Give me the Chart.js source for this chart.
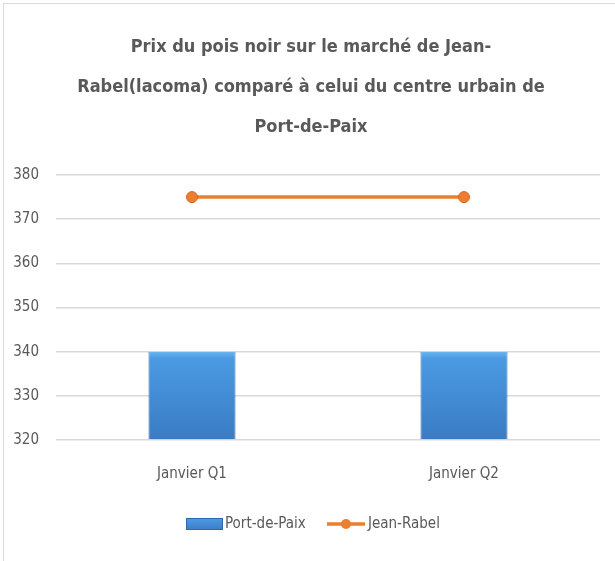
<!DOCTYPE html>
<html><head><meta charset="utf-8">
<script src="https://cdn.jsdelivr.net/npm/chart.js@4/dist/chart.umd.min.js"></script>
<style>
html,body{margin:0;padding:0;background:#fff;}
#wrap{position:absolute;left:0;top:0;width:615px;height:561px;}
#frame{position:absolute;left:3px;top:3px;width:640px;height:600px;border-left:1px solid #d9d9d9;border-top:1px solid #d9d9d9;}
</style></head>
<body>
<div id="wrap"><div id="frame"></div><canvas id="c" width="615" height="561"></canvas></div>
<script>
const categories = ["Janvier Q1", "Janvier Q2"];
const portDePaix = [340, 340];
const jeanRabel = [375, 375];
const yTicks = [320, 330, 340, 350, 360, 370, 380];
const titleLines = ["Prix du pois noir sur le marché de Jean-", "Rabel(lacoma) comparé à celui du centre urbain de", "Port-de-Paix"];
const seriesNames = ["Port-de-Paix", "Jean-Rabel"];

const FONT = "'DejaVu Sans Condensed','Liberation Sans Narrow',sans-serif";
const TXT = '#595959';
const ORANGE = '#ED7D31';

function barGrad(ctx, top, bottom){
  const g = ctx.createLinearGradient(0, top, 0, bottom);
  g.addColorStop(0, '#6cb6f0');
  g.addColorStop(0.08, '#4a9ae3');
  g.addColorStop(1, '#3a7cc4');
  return g;
}

const textPlugin = {
  id: 'titleAndLegend',
  afterDraw(chart){
    const ctx = chart.ctx;
    ctx.save();
    // title
    ctx.font = 'bold 18px ' + FONT;
    ctx.fillStyle = TXT;
    ctx.textAlign = 'center';
    ctx.textBaseline = 'middle';
    titleLines.forEach((t, i) => ctx.fillText(t, 311, 47 + i * 40));
    // legend
    ctx.textAlign = 'left';
    ctx.font = '15px ' + FONT;
    const y = 524;
    let x = 186;
    ctx.fillStyle = barGrad(ctx, y-6, y+6);
    ctx.fillRect(x, y-6, 37, 12);
    ctx.strokeStyle = '#2f6aa8'; ctx.lineWidth = 1;
    ctx.strokeRect(x+0.5, y-5.5, 36, 11);
    ctx.fillStyle = TXT;
    ctx.fillText(seriesNames[0], x+39, y);
    x = 327;
    ctx.strokeStyle = ORANGE; ctx.lineWidth = 3.5;
    ctx.beginPath(); ctx.moveTo(x, y); ctx.lineTo(x+38, y); ctx.stroke();
    ctx.fillStyle = ORANGE;
    ctx.beginPath(); ctx.arc(x+19, y, 5, 0, Math.PI*2); ctx.fill();
    ctx.fillStyle = TXT;
    ctx.fillText(seriesNames[1], x+41, y);
    ctx.restore();
  }
};

new Chart(document.getElementById('c'), {
  data: {
    labels: categories,
    datasets: [
      {
        type: 'line', label: seriesNames[1], data: jeanRabel,
        borderColor: ORANGE, borderWidth: 3.5, pointRadius: 5.5, pointHoverRadius: 5.5,
        pointBackgroundColor: ORANGE, pointBorderColor: '#d9661f', pointBorderWidth: 1, order: 0
      },
      {
        type: 'bar', label: seriesNames[0], data: portDePaix,
        backgroundColor: (c) => { const a = c.chart.chartArea; if(!a) return '#4a90d9'; const y = c.chart.scales.y; return barGrad(c.chart.ctx, y.getPixelForValue(340), y.getPixelForValue(320)); },
        borderColor: '#2f6aa8', borderWidth: {left:1,right:1,top:0,bottom:0},
        categoryPercentage: 0.64, barPercentage: 0.5, order: 1, base: 320
      }
    ]
  },
  options: {
    responsive: false, animation: false, devicePixelRatio: 1,
    layout: { padding: { left: 0, right: 15, top: 175, bottom: 61 } },
    plugins: {
      legend: { display: false },
      tooltip: { enabled: false },
      title: { display: false }
    },
    scales: {
      x: {
        grid: { display: false },
        border: { display: false },
        ticks: { color: TXT, font: { family: FONT, size: 15 }, padding: 17 }
      },
      y: {
        min: 320, max: 380,
        afterBuildTicks: (s) => { s.ticks = yTicks.map(v => ({ value: v })); },
        afterFit: (s) => { s.width = 56; },
        grid: { color: '#d9d9d9', lineWidth: 1.5, drawTicks: false },
        border: { display: false },
        ticks: { color: TXT, font: { family: FONT, size: 15 }, padding: 17 }
      }
    }
  },
  plugins: [textPlugin]
});
</script>
</body></html>
